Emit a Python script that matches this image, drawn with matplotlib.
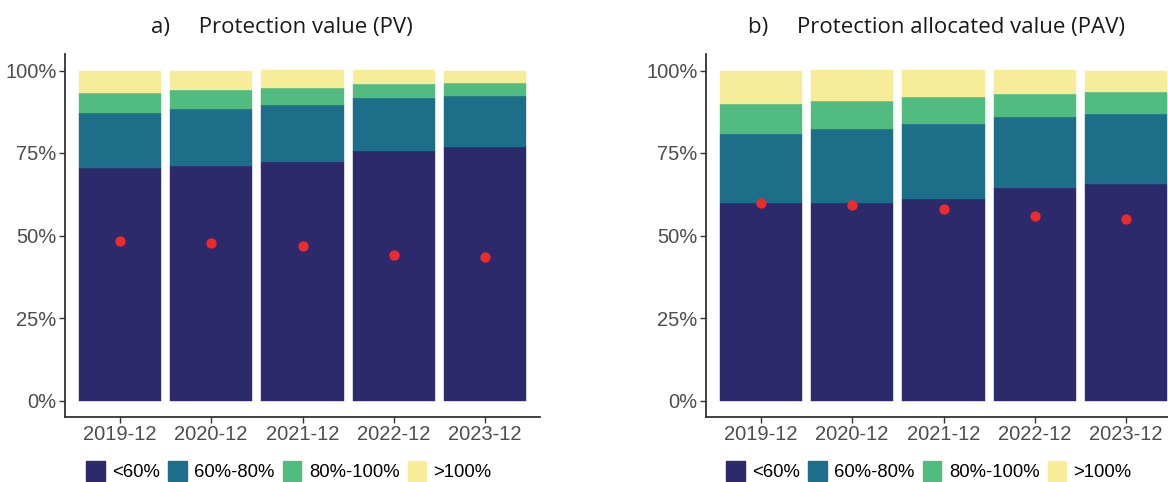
import numpy as np
import matplotlib.pyplot as plt
from matplotlib.patches import Patch
from matplotlib.ticker import FixedLocator

plt.rcParams['font.family'] = ['Liberation Sans', 'DejaVu Sans']

dates = ["2019-12", "2020-12", "2021-12", "2022-12", "2023-12"]
labels = ["<60%", "60%-80%", "80%-100%", ">100%"]
colors = ["#2D2A6B", "#1D6F89", "#52BC80", "#F7EC9A"]

# cumulative tops of each band (%)
pv_lt60 = [70.4, 71.2, 72.3, 75.7, 76.8]
pv_60_80 = [87.1, 88.2, 89.4, 91.8, 92.4]
pv_80_100 = [93.2, 94.0, 94.6, 96.0, 96.3]
pv_dot = [48.3, 47.7, 46.8, 44.2, 43.5]

pav_lt60 = [59.7, 59.9, 61.1, 64.4, 65.5]
pav_60_80 = [80.9, 82.3, 83.9, 85.8, 86.9]
pav_80_100 = [89.7, 90.8, 91.9, 93.0, 93.5]
pav_dot = [60.0, 59.2, 58.0, 55.8, 55.1]

panels = [
    ("a)     Protection value (PV)", [pv_lt60, pv_60_80, pv_80_100], pv_dot),
    ("b)     Protection allocated value (PAV)", [pav_lt60, pav_60_80, pav_80_100], pav_dot),
]

W, H = 1168, 482
fig = plt.figure(figsize=(W / 100, H / 100), dpi=100)

# axes positions in pixels: left, right, top, bottom
boxes = [(65, 540, 54, 417), (706, 1181, 54, 417)]
legend_centers = [289, 929]
title_centers = [282, 936]
tick_col = "#4D4D4D"

for (title, tops, dots), (l, r, t, b), lc, tc in zip(panels, boxes, legend_centers, title_centers):
    ax = fig.add_axes([l / W, 1 - b / H, (r - l) / W, (b - t) / H])
    x = np.arange(1, len(dates) + 1)
    bottoms = [0] + tops
    uppers = tops + [100]
    for i in range(4):
        lo = np.array(bottoms[i]) / 100
        hi = np.array(uppers[i]) / 100
        ax.bar(x, hi - lo, bottom=lo, width=0.9, color=colors[i],
               edgecolor=colors[i], linewidth=0.3)
    ax.scatter(x, np.array(dots) / 100, s=55, color="#EE2A2A", zorder=3,
               linewidths=0)
    ax.set_xlim(0.4, 5.6)
    ax.set_ylim(-0.05, 1.05)
    ax.set_xticks(x)
    ax.set_xticklabels(dates)
    ax.yaxis.set_major_locator(FixedLocator([0, 0.25, 0.5, 0.75, 1.0]))
    ax.set_yticklabels(["0%", "25%", "50%", "75%", "100%"])
    for s in ["top", "right"]:
        ax.spines[s].set_visible(False)
    for s in ["left", "bottom"]:
        ax.spines[s].set_color("#333333")
        ax.spines[s].set_linewidth(1.3)
    ax.tick_params(axis="both", length=4, width=1, color="#333333",
                   labelcolor=tick_col, labelsize=14.5, pad=2)
    fig.text(tc / W, 1 - 27 / H, title, fontsize=16, ha="center", va="center",
             family=["Open Sans", "DejaVu Sans"], color="#1a1a1a")

    handles = [Patch(facecolor=c, edgecolor=c) for c in colors]
    fig.legend(handles, labels, loc="center", bbox_to_anchor=(lc / W, 1 - 471 / H),
               ncol=4, frameon=False, handlelength=1.0, handleheight=1.25,
               handletextpad=0.4, columnspacing=0.45, borderpad=0,
               prop={"size": 13.3})

fig.savefig("out.png", dpi=100)
